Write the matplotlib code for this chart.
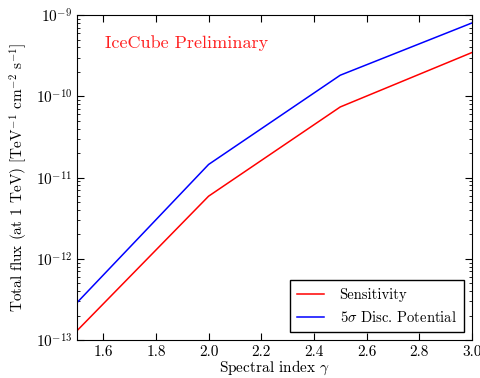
import matplotlib
matplotlib.use("Agg")
import matplotlib.pyplot as plt
from matplotlib.ticker import LogLocator

plt.rcParams['font.family'] = ['cmr10']
plt.rcParams['mathtext.fontset'] = 'cm'
plt.rcParams['axes.formatter.use_mathtext'] = True

gamma = [1.5, 2.0, 2.5, 3.0]
sensitivity = [1.3e-13, 5.9e-12, 7.4e-11, 3.46e-10]
discovery = [2.88e-13, 1.45e-11, 1.82e-10, 8.0e-10]
xticks = [1.6, 1.8, 2.0, 2.2, 2.4, 2.6, 2.8, 3.0]

fig = plt.figure(figsize=(4.81, 3.78), dpi=100)
ax = fig.add_axes([0.160, 0.1005, 0.821, 0.8595])

ax.plot(gamma, sensitivity, color='#ff0000', lw=1.1, label='Sensitivity')
ax.plot(gamma, discovery, color='#0000ff', lw=1.1, label=r'5$\sigma$ Disc. Potential')
ax.set_yscale('log')
ax.set_xlim(1.5, 3.0)
ax.set_ylim(1e-13, 1e-9)
ax.set_xticks(xticks)
ax.set_xticklabels([f"{t:.1f}" for t in xticks])
ax.yaxis.set_major_locator(LogLocator(base=10, numticks=10))
ax.yaxis.set_minor_locator(LogLocator(base=10, subs=range(2, 10), numticks=20))
ax.tick_params(which='both', direction='in', top=True, right=True, labelsize=11)
ax.tick_params(which='major', length=5)
ax.tick_params(which='minor', length=2.5)

ax.set_xlabel(r'Spectral index $\gamma$', fontsize=11, labelpad=0)
ax.set_ylabel(r'Total flux (at 1 TeV) [TeV$^{-1}$ cm$^{-2}$ s$^{-1}$]', fontsize=11, labelpad=4)

ax.text(0.07, 0.915, 'IceCube Preliminary', color='#ff2020', fontsize=13,
        transform=ax.transAxes, va='center', ha='left')

leg = ax.legend(loc='lower right', prop={'size': 10.5}, fancybox=False, framealpha=1,
                edgecolor='black', borderaxespad=0.55, handlelength=1.8,
                handletextpad=1.1, labelspacing=0.55, borderpad=0.5)
leg.get_frame().set_linewidth(1.0)

fig.savefig('out.png', dpi=100)
